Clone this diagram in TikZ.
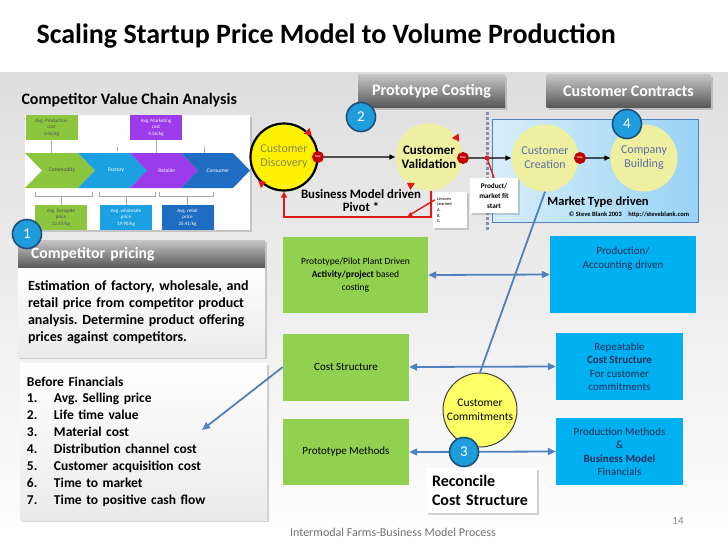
\documentclass[tikz,border=0pt]{standalone}
\usepackage{fontspec}
\setmainfont{Carlito}
\frenchspacing
\usetikzlibrary{arrows.meta,shapes.geometric,shadows,positioning}

\definecolor{leafgreen}{HTML}{92D050}
\definecolor{skyblue}{HTML}{00B0F0}
\definecolor{linkblue}{HTML}{4F81BD}
\definecolor{badgeblue}{HTML}{1E9CDC}
\definecolor{badgerim}{HTML}{1F4E79}
\definecolor{stopred}{HTML}{C00000}
\definecolor{pivotred}{HTML}{E01818}
\definecolor{paleyellow}{HTML}{EFEFA2}
\definecolor{softyellow}{HTML}{FFFF66}
\definecolor{olivetext}{HTML}{8A885A}
\definecolor{slatetext}{HTML}{5B6FA6}
\definecolor{navytext}{HTML}{1F2D5A}
\definecolor{icelight}{HTML}{D8EEFA}
\definecolor{icedeep}{HTML}{98D3F5}
\definecolor{dotgrey}{HTML}{7F90B2}
\definecolor{chipgreen}{HTML}{8CC63F}
\definecolor{chipblue}{HTML}{1BA1E2}
\definecolor{chippurple}{HTML}{9B3BEA}
\definecolor{chipnavy}{HTML}{1F6DC2}

\tikzset{
  head/.style={top color=black!22, bottom color=black!66, text=white, inner sep=0pt,
    font=\bfseries\fontsize{16}{18}\selectfont, drop shadow={opacity=.35}},
  note/.style={fill=white, inner sep=2pt, drop shadow={opacity=.35}},
  badge/.style={circle, fill=badgeblue, draw=badgerim, line width=1.6pt, text=white,
    minimum size=29pt, inner sep=0pt, font=\fontsize{15}{15}\selectfont},
  stage/.style={circle, minimum size=67pt, inner sep=0pt, align=center,
    font=\fontsize{12}{14}\selectfont},
  stopsign/.style={regular polygon, regular polygon sides=8, shape border rotate=22.5,
    fill=stopred, text=white, minimum size=12pt, inner sep=0pt,
    font=\bfseries\fontsize{3}{3}\selectfont},
  cyc/.style={isosceles triangle, isosceles triangle apex angle=60, fill=pivotred,
    minimum size=7pt, inner sep=0pt},
  flow/.style={black, line width=1.3pt, -{Triangle[length=6pt,width=5pt]}},
  pivot/.style={pivotred, line width=2pt, -{Triangle[length=6pt,width=6pt]}},
  link/.style={linkblue, line width=1.8pt},
  greenbox/.style={fill=leafgreen, inner sep=0pt, align=center,
    font=\fontsize{11}{13}\selectfont},
  bluebox/.style={fill=skyblue, inner sep=0pt, align=center, text=navytext,
    font=\fontsize{11}{13.5}\selectfont},
  chip/.style={inner sep=0pt, align=center, minimum width=52pt, minimum height=25pt,
    font=\fontsize{5}{6.5}\selectfont},
  chiptext/.style={font=\fontsize{5.5}{6}\selectfont},
  tick/.style={black!35, line width=.4pt},
}

\begin{document}
\begin{tikzpicture}[x=1pt,y=-1pt]
\useasboundingbox (0,0) rectangle (728,546);
\fill[top color=black!13, bottom color=white] (0,72) rectangle (728,546);

\node[anchor=base west, font=\bfseries\fontsize{28}{32}\selectfont] (title) at (33,43)
  {Scaling Startup Price Model to Volume Production};

% value chain picture
\node[anchor=west, font=\bfseries\fontsize{16}{18}\selectfont] (vcatitle) at (18,100) {Competitor Value Chain Analysis};
\node[fill=white, inner sep=0pt, minimum width=225pt, minimum height=115pt, drop shadow={opacity=.35}] (vca) at (137.5,172.5) {};
\fill[chipgreen] (25,153) -- (78,153) -- (95,170.5) -- (78,188) -- (25,188) -- (42,170.5) -- cycle;
\fill[chipblue] (78,153) -- (130,153) -- (147,170.5) -- (130,188) -- (78,188) -- (95,170.5) -- cycle;
\fill[chippurple] (130,153) -- (181,153) -- (198,170.5) -- (181,188) -- (130,188) -- (147,170.5) -- cycle;
\fill[chipnavy] (181,153) -- (233,153) -- (250,170.5) -- (233,188) -- (181,188) -- (198,170.5) -- cycle;
\node[chiptext, text=black!70] at (62,170.5) {Commodity};
\node[chiptext, text=white] at (116,170.5) {Factory};
\node[chiptext, text=white] at (167,170.5) {Retailer};
\node[chiptext, text=white] at (218,170.5) {Consumer};
\node[chip, fill=chipgreen, text=black!70] (prodcost) at (51.5,127.5) {Avg. Production\\cost\\1.05/kg};
\node[chip, fill=chippurple, text=white] (mktcost) at (156,127.5) {Avg. Marketing\\cost\\4.56/kg};
\node[chip, fill=chipgreen, text=black!70] (farmgate) at (61,217.5) {Avg. farmgate\\price\\11.57/kg};
\node[chip, fill=chipblue, text=white] (wholesale) at (126,217.5) {Avg. wholesale\\price\\19.90/kg};
\node[chip, fill=chipnavy, text=white] (retail) at (187.5,217.5) {Avg. retail\\price\\25.41/kg};
\draw[tick, -{Stealth[length=2pt]}] (prodcost.south) ++(0,13) -- (prodcost.south);
\draw[tick] (mktcost.south) -- ++(0,13);
\draw[tick] (117,147) -- (117,151);
\draw[tick] (204,147) -- (204,153);
\draw[tick] (35,192) -- (35,196) -- (92,196) -- (92,192);
\draw[tick] (99,192) -- (99,196) -- (155,196) -- (155,192);
\draw[tick] (159,192) -- (159,196) -- (213,196) -- (213,192);
\draw[tick] (farmgate.north) -- ++(0,-9);
\draw[tick] (wholesale.north) -- ++(0,-9);
\draw[tick] (retail.north) -- ++(0,-9);

% stage headers
\node[head, minimum width=147pt, minimum height=33pt] (protohead) at (431.5,91) {Prototype Costing};
\node[head, minimum width=164pt, minimum height=33pt] (contracthead) at (628.5,91) {Customer Contracts};

% customer development loop
\node[draw=linkblue, line width=.8pt, left color=icelight, right color=icedeep, inner sep=0pt,
  minimum width=206pt, minimum height=103pt] (market) at (595,170.5) {};
\draw[dotgrey, line width=3pt, dash pattern=on 2.5pt off 2.5pt] (487,112) -- (487,230);

\node[stage, fill=yellow, draw=black, line width=2.2pt, text=olivetext] (disc) at (284,157) {Customer\\Discovery};
\node[stage, fill=paleyellow, font=\bfseries\fontsize{13}{14}\selectfont] (valid) at (429,157) {Customer\\Validation};
\node[stage, fill=paleyellow, text=slatetext] (cre) at (545,158) {Customer\\Creation};
\node[stage, fill=paleyellow, text=slatetext] (bld) at (644,158) {Company\\Building};
\node[stopsign] (stopa) at (318,157) {Stop};
\node[stopsign] (stopb) at (463,158) {Stop};
\node[stopsign] (stopc) at (580,158) {Stop};
\node[cyc, rotate=-45] at (disc.45) {};
\node[cyc, rotate=140] at (disc.230) {};
\node[cyc, rotate=-55] at (valid.35) {};
\node[cyc, rotate=147] at (valid.237) {};

\draw[flow] (stopa) -- (valid);
\draw[flow] (stopb) -- (cre);
\draw[flow] (stopc) -- (bld);

\draw[pivot] ([xshift=2pt]valid.south) -- ++(0,26) -| (disc.south);
\node[font=\bfseries\fontsize{12.8}{13}\selectfont, align=center] (pivotlbl) at (361,201) {Business Model driven\\Pivot *};
\node[note, align=left, minimum width=34pt, minimum height=36pt, text width=26pt,
  font=\fontsize{4.5}{5.6}\selectfont] (lessons) at (450,210) {Lessons\\Learned\\A.\\B.\\C.};
\coordinate (lessonhit) at (408,216);
\draw[pivot, line width=1.4pt, -{Triangle[length=4pt,width=4pt]}] ([shift={(2,8)}]lessons.north west) -- (lessonhit);

\node[note, align=center, minimum width=48pt, minimum height=35pt, inner sep=1pt,
  font=\bfseries\fontsize{7.2}{10}\selectfont] (pmf) at (494,195.5) {Product/\\market fit\\start};
\coordinate (fitdot) at (487,158);
\draw[pivotred, line width=1.4pt] (pmf.north) -- (fitdot);
\fill[pivotred] (fitdot) circle (2.5pt);

\node[font=\bfseries\fontsize{12.5}{14}\selectfont] (mtype) at (598,202) {Market Type driven};
\node[font=\bfseries\fontsize{6.5}{7}\selectfont] (credit) at (629,215) {\textcopyright{} Steve Blank 2003\quad http://steveblank.com};

% costing rows
\node[greenbox, minimum width=145pt, minimum height=76pt, font=\fontsize{9.5}{13}\selectfont] (proto) at (355.5,275)
  {Prototype/Pilot Plant Driven\\\textbf{Activity/project} based\\costing};
\node[greenbox, minimum width=126pt, minimum height=67pt] (cost) at (346,367) {Cost Structure};
\node[greenbox, minimum width=126pt, minimum height=66pt] (methods) at (346,452) {Prototype Methods};

\node[bluebox, minimum width=146pt, minimum height=77pt,
  label={[bluebox, fill=none, anchor=north, yshift=-11pt]north:Production/\\Accounting driven}] (acct) at (623,274.5) {};
\node[bluebox, minimum width=127pt, minimum height=67pt] (repeat) at (619.5,366.5)
  {Repeatable\\\textbf{Cost Structure}\\For customer\\commitments};
\node[bluebox, minimum width=127pt, minimum height=67pt] (finance) at (619.5,451.5)
  {Production Methods\\\&\\\textbf{Business Model}\\Financials};

\draw[link, {Triangle[length=8pt,width=7pt]}-{Triangle[length=8pt,width=7pt]}] (proto.east) -- (acct.west);
\draw[link, {Triangle[length=8pt,width=7pt]}-{Triangle[length=8pt,width=7pt]}] (cost.east) -- (repeat.west);
\draw[link, {Triangle[length=8pt,width=7pt]}-{Triangle[length=8pt,width=7pt]}] (methods.east) -- (finance.west);

\node[circle, fill=softyellow, draw=black!75, line width=1pt, minimum size=74pt, inner sep=0pt,
  align=center, font=\fontsize{11.5}{14}\selectfont] (comm) at (480,410) {Customer\\Commitments};
\draw[link] (cre.south) -- (comm.north);

\node[note, align=left, minimum width=111pt, minimum height=45pt, text width=99pt,
  font=\bfseries\fontsize{16}{19}\selectfont] (reconcile) at (481.5,490.5) {Reconcile\\Cost Structure};

% competitor panels
\node[head, minimum width=247pt, minimum height=28pt, text width=221pt, align=left,
  font=\bfseries\fontsize{15.7}{17}\selectfont] (pricehead) at (141.5,254) {Competitor pricing};
\node[top color=white, bottom color=black!8, inner sep=0pt, minimum width=247pt, minimum height=89pt,
  text width=227pt, align=left, font=\bfseries\fontsize{14}{17}\selectfont,
  drop shadow={opacity=.35}] (pricebody) at (141.5,312.5)
  {Estimation of factory, wholesale, and\\retail price from competitor product\\analysis. Determine product offering\\prices against competitors.};
\node[top color=white, bottom color=black!8, inner sep=0pt, minimum width=247pt, minimum height=157pt,
  text width=233pt, align=left, font=\bfseries\fontsize{13.5}{16.9}\selectfont,
  drop shadow={opacity=.35}] (before) at (143.5,441.5)
  {Before Financials\\
   \makebox[27pt][l]{1.}Avg. Selling price\\
   \makebox[27pt][l]{2.}Life time value\\
   \makebox[27pt][l]{3.}Material cost\\
   \makebox[27pt][l]{4.}Distribution channel cost\\
   \makebox[27pt][l]{5.}Customer acquisition cost\\
   \makebox[27pt][l]{6.}Time to market\\
   \makebox[27pt][l]{7.}Time to positive cash flow};
\coordinate (finpoint) at (202,430);
\draw[link, -{Triangle[length=8pt,width=7pt]}] (cost.west) -- (finpoint);

% numbered badges
\node[badge] (badge1) at (27,234) {1};
\node[badge] (badge2) at (361,117) {2};
\node[badge] (badge3) at (464,452) {3};
\node[badge] (badge4) at (627,124) {4};

\node[text=black!55, font=\fontsize{12}{14}\selectfont] (footer) at (393,532) {Intermodal Farms-Business Model Process};
\node[text=black!45, font=\fontsize{11}{13}\selectfont] (pageno) at (678,521) {14};
\end{tikzpicture}
\end{document}
